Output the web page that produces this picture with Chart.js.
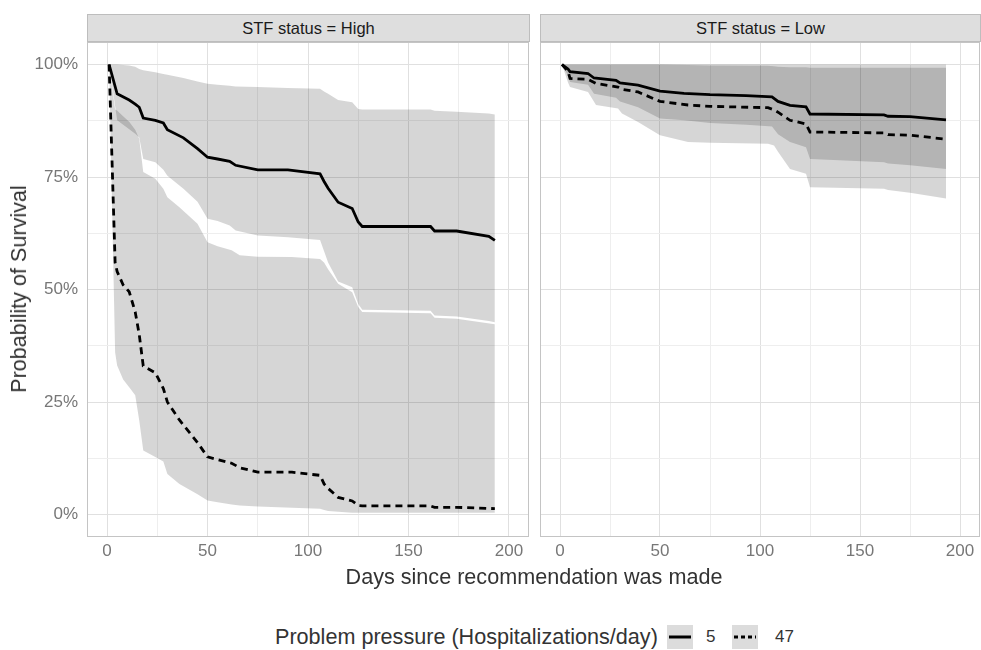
<!DOCTYPE html>
<html>
<head>
<meta charset="utf-8">
<script src="https://cdn.jsdelivr.net/npm/chart.js@4.4.1/dist/chart.umd.min.js"></script>
<style>
html, body { margin: 0; padding: 0; background: #ffffff; }
#wrap { position: relative; width: 981px; height: 650px; overflow: hidden; font-family: "Liberation Sans", Arial, sans-serif; }
canvas { position: absolute; }
.strip { position: absolute; top: 14px; height: 28px; background: #dedede; border: 1px solid #bdbdbd; box-sizing: border-box; text-align: center; line-height: 26px; font-size: 16.5px; color: #1a1a1a; z-index: 2; }
.title { position: absolute; font-size: 21.6px; color: #333333; white-space: nowrap; line-height: 22px; }
.key { position: absolute; top: 625px; width: 26px; height: 24px; background: #dcdcdc; }
.lab { position: absolute; font-size: 17px; color: #333333; line-height: 20px; top: 627px; }
</style>
</head>
<body>
<div id="wrap">
  <canvas id="cHigh" width="531" height="560" style="left:0px;top:12px;"></canvas>
  <canvas id="cLow" width="443" height="560" style="left:538px;top:12px;"></canvas>
  <div class="strip" style="left:87px;width:443px;">STF status = High</div>
  <div class="strip" style="left:540px;width:441px;">STF status = Low</div>
  <div class="title" style="left:0px;top:566px;width:1068px;text-align:center;">Days since recommendation was made</div>
  <div class="title" style="left:19px;top:289px;transform:translate(-50%,-50%) rotate(-90deg);">Probability of Survival</div>
  <div class="title" style="left:275px;top:626px;">Problem pressure (Hospitalizations/day)</div>
  <div class="key" style="left:667px;"><svg width="26" height="24"><line x1="2" y1="12" x2="24" y2="12" stroke="#000" stroke-width="3"/></svg></div>
  <div class="lab" style="left:706px;">5</div>
  <div class="key" style="left:732px;"><svg width="26" height="24"><line x1="2" y1="12" x2="24" y2="12" stroke="#000" stroke-width="3" stroke-dasharray="4 3"/></svg></div>
  <div class="lab" style="left:775px;">47</div>
</div>
<script>
// ---- tick values / labels ----
const xTickValues = [0, 25, 50, 75, 100, 125, 150, 175, 200];
const xTickLabels = ['0', '', '50', '', '100', '', '150', '', '200'];
const yTickValues = [0, 0.125, 0.25, 0.375, 0.5, 0.625, 0.75, 0.875, 1.0];
const yTickLabels = ['0%', '', '25%', '', '50%', '', '75%', '', '100%'];

// ---- STF status = High, pressure 5 ----
const days5High  = [1, 5, 11, 14, 16, 18, 24, 28, 30, 38, 45, 50, 55, 61, 64, 75, 90, 106, 108, 110, 115, 122, 125, 127, 161, 163, 174, 190, 193];
const surv5High  = [1.0, 0.935, 0.921, 0.912, 0.905, 0.881, 0.876, 0.870, 0.855, 0.837, 0.813, 0.794, 0.790, 0.785, 0.776, 0.766, 0.766, 0.757, 0.740, 0.725, 0.694, 0.680, 0.650, 0.640, 0.640, 0.630, 0.630, 0.618, 0.609];
const upper5High = [1.0, 1.0, 0.998, 0.995, 0.990, 0.987, 0.983, 0.979, 0.977, 0.970, 0.962, 0.957, 0.955, 0.953, 0.951, 0.950, 0.948, 0.946, 0.940, 0.935, 0.921, 0.916, 0.901, 0.900, 0.900, 0.897, 0.895, 0.891, 0.889];
const lower5High = [1.0, 0.876, 0.856, 0.846, 0.838, 0.790, 0.783, 0.766, 0.753, 0.724, 0.695, 0.657, 0.652, 0.642, 0.631, 0.620, 0.616, 0.610, 0.585, 0.560, 0.518, 0.505, 0.468, 0.455, 0.453, 0.442, 0.440, 0.430, 0.427];

// ---- STF status = High, pressure 47 ----
const days47High  = [1, 4, 5, 8, 11, 14, 16, 18, 24, 28, 30, 36, 45, 50, 55, 62, 66, 75, 92, 106, 108, 110, 115, 122, 125, 127, 161, 163, 174, 193];
const surv47High  = [1.0, 0.56, 0.54, 0.51, 0.495, 0.45, 0.40, 0.33, 0.315, 0.28, 0.25, 0.21, 0.16, 0.128, 0.122, 0.114, 0.104, 0.094, 0.094, 0.087, 0.068, 0.058, 0.038, 0.030, 0.020, 0.019, 0.019, 0.016, 0.016, 0.013];
const upper47High = [1.0, 0.90, 0.898, 0.885, 0.873, 0.855, 0.835, 0.761, 0.746, 0.724, 0.705, 0.683, 0.646, 0.605, 0.596, 0.587, 0.576, 0.573, 0.572, 0.568, 0.560, 0.545, 0.513, 0.494, 0.461, 0.450, 0.447, 0.437, 0.435, 0.423];
const lower47High = [1.0, 0.36, 0.331, 0.30, 0.283, 0.265, 0.209, 0.142, 0.128, 0.118, 0.090, 0.068, 0.045, 0.031, 0.027, 0.022, 0.020, 0.018, 0.015, 0.013, 0.010, 0.008, 0.006, 0.004, 0.004, 0.004, 0.004, 0.004, 0.004, 0.004];

// ---- STF status = Low, pressure 5 ----
const days5Low  = [1, 4, 5, 14, 17, 28, 30, 39, 50, 62, 75, 93, 106, 109, 115, 123, 125, 162, 164, 175, 193];
const surv5Low  = [1.0, 0.99, 0.984, 0.980, 0.970, 0.965, 0.959, 0.954, 0.941, 0.936, 0.933, 0.931, 0.928, 0.918, 0.909, 0.906, 0.890, 0.888, 0.885, 0.884, 0.877];
const upper5Low = [1.0, 1.0, 1.0, 1.0, 1.0, 1.0, 1.0, 1.0, 1.0, 1.0, 1.0, 1.0, 1.0, 1.0, 1.0, 1.0, 1.0, 1.0, 1.0, 1.0, 1.0];
const lower5Low = [1.0, 0.975, 0.961, 0.955, 0.935, 0.926, 0.918, 0.905, 0.880, 0.876, 0.870, 0.866, 0.862, 0.845, 0.828, 0.816, 0.790, 0.783, 0.780, 0.776, 0.768];

// ---- STF status = Low, pressure 47 ----
const days47Low  = [1, 4, 5, 14, 18, 29, 31, 39, 50, 64, 75, 104, 107, 109, 115, 123, 125, 162, 164, 175, 193];
const surv47Low  = [1.0, 0.985, 0.969, 0.967, 0.958, 0.950, 0.945, 0.939, 0.918, 0.910, 0.907, 0.904, 0.899, 0.894, 0.876, 0.868, 0.850, 0.848, 0.844, 0.843, 0.834];
const upper47Low = [1.0, 1.0, 1.0, 1.0, 1.0, 1.0, 1.0, 1.0, 1.0, 0.999, 0.998, 0.997, 0.996, 0.995, 0.994, 0.994, 0.993, 0.993, 0.993, 0.993, 0.993];
const lower47Low = [1.0, 0.96, 0.950, 0.939, 0.910, 0.902, 0.891, 0.872, 0.843, 0.828, 0.826, 0.824, 0.820, 0.806, 0.768, 0.757, 0.727, 0.724, 0.721, 0.715, 0.702];

function pts(days, vals) { return days.map((d, i) => ({ x: d, y: vals[i] })); }

const ribbonColor = 'rgba(0,0,0,0.16)';

function makeDatasets(d5, s5, u5, l5, d47, s47, u47, l47) {
  const base = { pointRadius: 0, pointHoverRadius: 0, tension: 0 };
  return [
    Object.assign({}, base, { label: '5', data: pts(d5, s5), borderColor: '#000', borderWidth: 2.8, fill: false }),
    Object.assign({}, base, { label: '47', data: pts(d47, s47), borderColor: '#000', borderWidth: 2.8, borderDash: [7, 5], fill: false }),
    Object.assign({}, base, { label: 'u5', data: pts(d5, u5), borderWidth: 0, borderColor: 'rgba(0,0,0,0)', backgroundColor: ribbonColor, fill: '+1' }),
    Object.assign({}, base, { label: 'l5', data: pts(d5, l5), borderWidth: 0, borderColor: 'rgba(0,0,0,0)', fill: false }),
    Object.assign({}, base, { label: 'u47', data: pts(d47, u47), borderWidth: 0, borderColor: 'rgba(0,0,0,0)', backgroundColor: ribbonColor, fill: '+1' }),
    Object.assign({}, base, { label: 'l47', data: pts(d47, l47), borderWidth: 0, borderColor: 'rgba(0,0,0,0)', fill: false })
  ];
}

const panelBorder = {
  id: 'panelBorder',
  afterDatasetsDraw(chart) {
    const a = chart.chartArea, ctx = chart.ctx;
    ctx.save();
    ctx.strokeStyle = '#c4c4c4';
    ctx.lineWidth = 1;
    ctx.strokeRect(a.left + 0.5, a.top + 0.5, a.right - a.left - 1, a.bottom - a.top - 1);
    ctx.restore();
  }
};

function gridColor(ctx, step) {
  const v = ctx.tick ? ctx.tick.value : 0;
  const r = Math.abs(v / step - Math.round(v / step));
  return r < 1e-6 ? '#e0e0e0' : '#eeeeee';
}

function makeOptions(showY, padLeft, padRight) {
  return {
    responsive: false,
    animation: false,
    devicePixelRatio: 1,
    layout: { padding: { left: padLeft, right: padRight, top: 30, bottom: 0 } },
    plugins: { legend: { display: false }, tooltip: { enabled: false } },
    events: [],
    scales: {
      x: {
        type: 'linear', min: -10, max: 210,
        afterBuildTicks: (axis) => { axis.ticks = xTickValues.map(v => ({ value: v })); },
        afterFit: (scale) => { scale.height = 35; },
        ticks: {
          autoSkip: false, maxRotation: 0, padding: 4,
          color: '#777777',
          font: { family: '"Liberation Sans", Arial, sans-serif', size: 17 },
          callback: (value, index) => xTickLabels[index]
        },
        grid: { drawTicks: false, color: (c) => gridColor(c, 50), lineWidth: 1 },
        border: { display: false }
      },
      y: {
        type: 'linear', min: -0.05, max: 1.05,
        afterBuildTicks: (axis) => { axis.ticks = yTickValues.map(v => ({ value: v })); },
        afterFit: (scale) => { scale.width = showY ? 87 : 0; },
        ticks: {
          display: showY, autoSkip: false, padding: 9,
          color: '#777777',
          font: { family: '"Liberation Sans", Arial, sans-serif', size: 17 },
          callback: (value, index) => yTickLabels[index]
        },
        grid: { drawTicks: false, color: (c) => gridColor(c, 0.25), lineWidth: 1 },
        border: { display: false }
      }
    }
  };
}

new Chart(document.getElementById('cHigh'), {
  type: 'line',
  data: { datasets: makeDatasets(days5High, surv5High, upper5High, lower5High, days47High, surv47High, upper47High, lower47High) },
  options: makeOptions(true, 0, 2),
  plugins: [panelBorder]
});

new Chart(document.getElementById('cLow'), {
  type: 'line',
  data: { datasets: makeDatasets(days5Low, surv5Low, upper5Low, lower5Low, days47Low, surv47Low, upper47Low, lower47Low) },
  options: makeOptions(false, 2, 1),
  plugins: [panelBorder]
});
</script>
</body>
</html>
